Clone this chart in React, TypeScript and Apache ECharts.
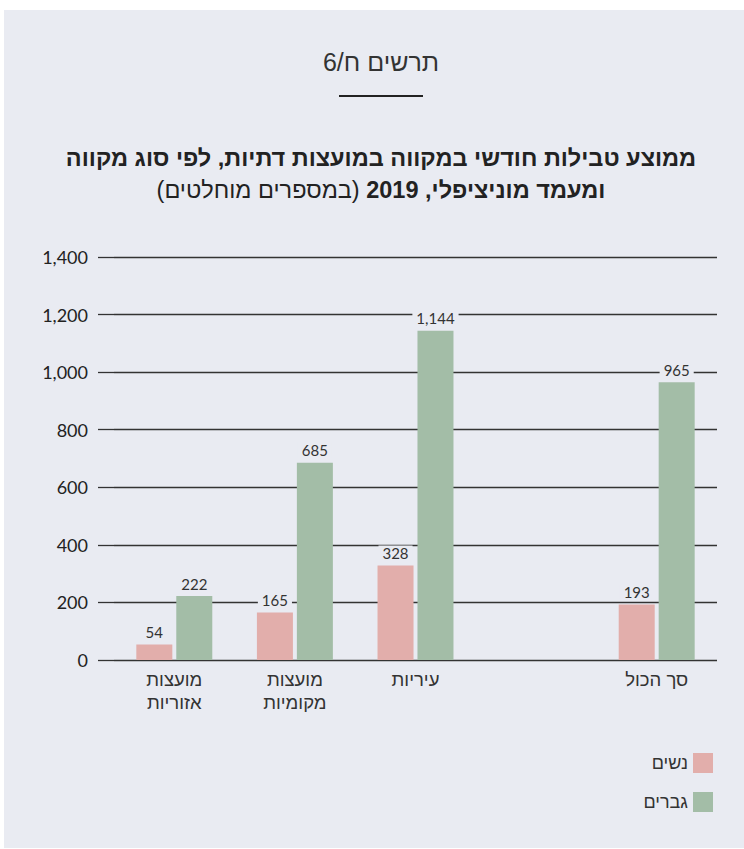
import React, { useEffect, useRef } from "react";
import * as echarts from "echarts";

const categories = ["מועצות\nאזוריות", "מועצות\nמקומיות", "עיריות", "", "סך הכול"];
const women = [54, 165, 328, null, 193];
const men = [222, 685, 1144, null, 965];
const seriesNames = ["נשים", "גברים"];
const yTicks = { min: 0, max: 1400, interval: 200 };

const PANEL = "#e9ebf2";
const PINK = "#e2aeab";
const GREEN = "#a3bda7";
const HEB = "'Liberation Sans', 'DejaVu Sans', sans-serif";
const NUM = "Lato, 'Liberation Sans', sans-serif";

const fmt = (v: number) => Number(v).toLocaleString("en-US");

export default function App() {
  const ref = useRef<HTMLDivElement>(null);
  useEffect(() => {
    if (!ref.current) return;
    const chart = echarts.init(ref.current, undefined, { renderer: "svg" });
    const label = {
      show: true,
      position: "top",
      distance: 5,
      color: "#333",
      fontFamily: NUM,
      fontSize: 15,
      backgroundColor: PANEL,
      padding: [0, 4],
      formatter: (p: any) => fmt(p.value),
    };
    chart.setOption({
      animation: false,
      backgroundColor: "#ffffff",
      graphic: [
        {
          type: "rect",
          z: -10,
          silent: true,
          shape: { x: 4, y: 10, width: 760, height: 838 },
          style: { fill: PANEL },
        },
        {
          type: "text",
          x: 381,
          y: 62,
          style: {
            text: "תרשים ח/6",
            font: `300 25px ${HEB}`,
            fill: "#333",
            textAlign: "center",
            textVerticalAlign: "middle",
          },
        },
        {
          type: "line",
          shape: { x1: 339, y1: 96, x2: 423, y2: 96 },
          style: { stroke: "#222", lineWidth: 2 },
        },
        {
          type: "text",
          x: 381,
          y: 158,
          style: {
            text: "ממוצע טבילות חודשי במקווה במועצות דתיות, לפי סוג מקווה",
            font: `bold 23.5px ${HEB}`,
            fill: "#222",
            textAlign: "center",
            textVerticalAlign: "middle",
          },
        },
        {
          type: "text",
          x: 381,
          y: 190,
          style: {
            text: "{n|(במספרים מוחלטים)} {b|ומעמד מוניציפלי, 2019}",
            textAlign: "center",
            textVerticalAlign: "middle",
            rich: {
              n: { fontFamily: HEB, fontSize: 23.5, fill: "#222", color: "#222" },
              b: { fontFamily: HEB, fontSize: 23.5, fontWeight: "bold", fill: "#222", color: "#222" },
            },
            font: `23.5px ${HEB}`,
            fill: "#222",
          },
        },
      ],
      legend: {
        orient: "vertical",
        right: 26,
        top: 748,
        align: "right",
        itemWidth: 20,
        itemHeight: 20,
        itemGap: 19,
        icon: "rect",
        data: seriesNames,
        textStyle: { fontFamily: HEB, fontSize: 18, color: "#333" },
      },
      grid: { left: 114, right: 27, top: 257, bottom: 189, containLabel: false },
      xAxis: {
        type: "category",
        data: categories,
        axisLine: { show: false },
        axisTick: { show: false },
        axisLabel: {
          interval: 0,
          margin: 8,
          fontFamily: HEB,
          fontSize: 18.5,
          lineHeight: 23,
          color: "#333",
        },
      },
      yAxis: {
        type: "value",
        min: yTicks.min,
        max: yTicks.max,
        interval: yTicks.interval,
        axisLine: { show: false },
        axisTick: { show: true, length: 16, lineStyle: { color: "#333", width: 1.3 } },
        splitLine: { show: true, lineStyle: { color: "#333", width: 1.3 } },
        axisLabel: {
          margin: 26,
          fontFamily: NUM,
          fontSize: 18,
          color: "#222",
          formatter: (v: number) => fmt(v),
        },
      },
      series: [
        {
          name: seriesNames[0],
          type: "bar",
          data: women,
          barWidth: 36,
          barGap: "11%",
          itemStyle: { color: PINK },
          label,
        },
        {
          name: seriesNames[1],
          type: "bar",
          data: men,
          barWidth: 36,
          barGap: "11%",
          itemStyle: { color: GREEN },
          label,
        },
      ],
    });
    return () => chart.dispose();
  }, []);
  return (
    <div
      ref={ref}
      style={{ position: "fixed", left: 0, top: 0, width: 744, height: 849 }}
    />
  );
}
